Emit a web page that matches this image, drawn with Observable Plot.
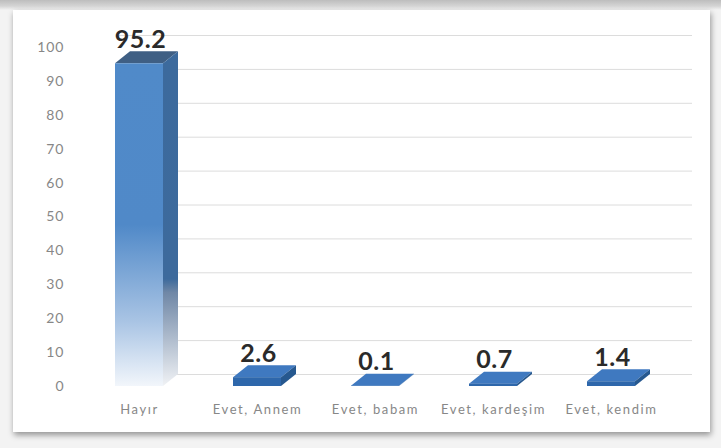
<!DOCTYPE html>
<html><head><meta charset="utf-8">
<script src="https://cdn.jsdelivr.net/npm/d3@7"></script>
<script src="https://cdn.jsdelivr.net/npm/@observablehq/plot@0.6"></script>
<style>
html,body{margin:0;padding:0;}
body{width:721px;height:448px;overflow:hidden;background:#f2f2f2;font-family:Lato,sans-serif;}
#wrap{position:relative;width:721px;height:448px;background:linear-gradient(#bdbdbd 0px,#d4d4d4 6px,#f3f3f3 10px,#f3f3f3 100%);}
#panel{position:absolute;left:13px;top:10px;width:697px;height:422px;background:#fff;box-shadow:1px 3px 6px rgba(0,0,0,0.4);}
#chart{position:absolute;left:0;top:0;}
#chart svg{background:transparent;}
#chart g[aria-label="x-axis tick label"] text{letter-spacing:1.6px;}
#chart g[aria-label="y-axis tick label"] text{letter-spacing:1px;}
#chart g[aria-label="text"] text{letter-spacing:0.5px;}
</style></head><body>
<div id="wrap"><div id="panel"></div><div id="chart"></div></div>
<script>
const categories = ["Hayır", "Evet, Annem", "Evet, babam", "Evet, kardeşim", "Evet, kendim"];
const values = [95.2, 2.6, 0.1, 0.7, 1.4];
const yTicks = [0, 10, 20, 30, 40, 50, 60, 70, 80, 90, 100];
const data = categories.map((c, i) => ({cat: c, value: values[i]}));

const DX = 15, DY = -12;

function bar3d(index, scales, vals, dims, context, next) {
  const g = next(index, scales, vals, dims, context);
  const sel = d3.select(g);
  const defs = sel.insert("defs", ":first-child");
  const gf = defs.append("linearGradient").attr("id", "gFront").attr("x1", 0).attr("y1", 0).attr("x2", 0).attr("y2", 1);
  gf.append("stop").attr("offset", 0).attr("stop-color", "#508ac9");
  gf.append("stop").attr("offset", 0.5).attr("stop-color", "#5089c8");
  gf.append("stop").attr("offset", 0.8).attr("stop-color", "#a9c4e4");
  gf.append("stop").attr("offset", 1).attr("stop-color", "#f2f6fb");
  const gs = defs.append("linearGradient").attr("id", "gSide").attr("x1", 0).attr("y1", 0).attr("x2", 0).attr("y2", 1);
  gs.append("stop").attr("offset", 0).attr("stop-color", "#3c6a9d");
  gs.append("stop").attr("offset", 0.68).attr("stop-color", "#3d6a9c");
  gs.append("stop").attr("offset", 0.72).attr("stop-color", "#6f87a6");
  gs.append("stop").attr("offset", 1).attr("stop-color", "#f0f2f5");
  sel.selectAll("rect").each(function(_, k) {
    const r = d3.select(this);
    const x = +r.attr("x"), y = +r.attr("y"), w = +r.attr("width"), h = +r.attr("height");
    const tall = h > 30;
    const y0 = y + h;
    const side = [[x + w, y], [x + w + DX, y + DY], [x + w + DX, y0 + DY], [x + w, y0]];
    const top = [[x, y], [x + w, y], [x + w + DX, y + DY], [x + DX, y + DY]];
    const line = d3.line();
    sel.insert("path", "defs + *")
      .attr("d", line(side) + "Z")
      .attr("fill", tall ? "url(#gSide)" : "#26588f");
    sel.insert("path", "defs + *")
      .attr("d", line(top) + "Z")
      .attr("fill", tall ? "#3f5f84" : "#3f79c0");
    r.attr("fill", tall ? "url(#gFront)" : "#2e67ab");
    this.parentNode.appendChild(this);
  });
  return g;
}

const chart = Plot.plot({
  width: 721,
  height: 448,
  marginTop: 47,
  marginBottom: 62,
  marginLeft: 79,
  marginRight: 50,
  style: {fontFamily: "Lato, sans-serif", color: "#808080", background: "transparent"},
  x: {domain: categories, paddingInner: 0.59, paddingOuter: 0.295, label: null},
  y: {domain: [0, 100], label: null},
  marks: [
    Plot.ruleY(yTicks, {stroke: "#dcdcdc", strokeWidth: 1, dy: DY, insetLeft: 40, insetRight: -21}),
    Plot.axisY({ticks: yTicks, tickSize: 0, tickPadding: 15, fontSize: 14, label: null, color: "#878787"}),
    Plot.axisX({tickSize: 0, tickPadding: 18, fontSize: 13, label: null, color: "#878787"}),
    Plot.barY(data, {x: "cat", y: "value", fill: "#2e67ab", render: bar3d}),
    Plot.text(data, {x: "cat", y: "value", text: d => d.value.toFixed(1), dy: -16, dx: 1, lineAnchor: "bottom", fontSize: 25, fontWeight: "bold", fill: "#2a2a2a"})
  ]
});
document.getElementById("chart").appendChild(chart);
</script>
</body></html>
